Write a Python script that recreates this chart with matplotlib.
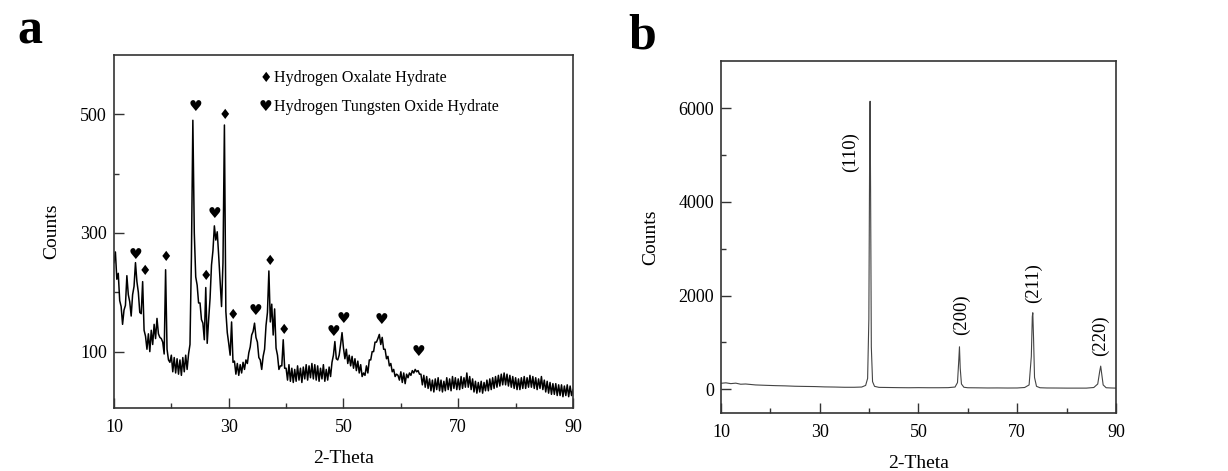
import numpy as np
import matplotlib
matplotlib.use("Agg")
import matplotlib.pyplot as plt
from matplotlib.ticker import FixedLocator

plt.rcParams['font.family'] = ['Liberation Serif', 'DejaVu Sans']

# ---- panel a: as-prepared sample, 0.25 deg steps from 10 to 90 ----
a_start, a_step = 10.0, 0.25
a_counts = [
    250, 268, 222, 232, 186, 176, 146, 170, 178, 228, 196, 184, 160, 196, 210, 250, 218, 200, 166, 164,
    218, 136, 126, 104, 130, 100, 136, 112, 146, 122, 156, 130, 124, 122, 116, 96, 238, 104, 86, 82,
    94, 66, 90, 64, 88, 62, 86, 60, 90, 66, 94, 70, 96, 112, 260, 490, 300, 226, 212, 182,
    182, 154, 148, 120, 208, 114, 154, 190, 246, 270, 312, 288, 302, 262, 218, 176, 250, 482, 168, 132,
    114, 94, 150, 82, 84, 62, 80, 60, 78, 64, 82, 70, 86, 80, 98, 108, 128, 134, 148, 124,
    116, 90, 86, 70, 92, 104, 144, 166, 236, 150, 180, 128, 172, 106, 94, 70, 76, 76, 120, 72,
    72, 52, 78, 50, 72, 48, 70, 50, 76, 52, 72, 48, 74, 54, 78, 52, 76, 56, 80, 54,
    78, 52, 76, 50, 72, 54, 78, 50, 70, 52, 74, 58, 82, 94, 117, 88, 86, 94, 112, 132,
    106, 88, 104, 80, 94, 76, 92, 72, 88, 68, 84, 64, 78, 58, 64, 60, 76, 64, 86, 86,
    100, 100, 116, 116, 122, 129, 112, 124, 104, 104, 88, 92, 76, 80, 66, 70, 58, 62, 60, 52,
    66, 48, 64, 46, 62, 56, 64, 60, 68, 64, 70, 66, 68, 62, 62, 44, 60, 40, 58, 38,
    54, 34, 52, 32, 54, 36, 56, 34, 52, 32, 50, 34, 56, 36, 54, 34, 58, 38, 56, 36,
    54, 36, 58, 38, 56, 40, 64, 40, 58, 36, 54, 32, 50, 30, 48, 32, 50, 30, 48, 34,
    52, 34, 54, 36, 56, 38, 58, 40, 60, 42, 62, 44, 64, 44, 62, 42, 60, 40, 58, 38,
    56, 36, 54, 36, 56, 38, 58, 38, 56, 40, 60, 40, 58, 38, 56, 36, 54, 38, 58, 36,
    52, 32, 50, 30, 48, 28, 46, 28, 46, 26, 44, 26, 44, 24, 42, 26, 44, 24, 42, 26,
    36,
]
a_theta = a_start + a_step * np.arange(len(a_counts))

# phase markers (x, y)
oxalate_x = [15.4, 19.0, 26.0, 29.4, 30.8, 37.2, 39.7]
oxalate_y = [236, 259, 228, 499, 161, 252, 136]
tungsten_x = [13.8, 24.2, 27.5, 34.6, 48.3, 50.0, 56.6, 63.1]
tungsten_y = [264, 514, 333, 169, 134, 156, 154, 100]

# ---- panel b: reduced sample ----
b_theta = [10, 11, 12, 13, 14, 15, 17, 19, 21, 23, 25, 27, 29, 31, 33, 35, 37, 38.5, 39.3, 39.7,
           39.95, 40.1, 40.2, 40.3, 40.45, 40.7, 41.1, 42, 44, 46, 48, 50, 52, 54, 56, 57.4, 57.9,
           58.15, 58.3, 58.45, 58.7, 59.2, 60, 62, 64, 66, 68, 70, 71.5, 72.4, 72.85, 73.05, 73.15,
           73.3, 73.5, 73.9, 74.6, 76, 78, 80, 82, 84, 85.5, 86.3, 86.7, 86.9, 87.1, 87.4, 88, 89, 90]
b_counts = [125, 135, 118, 128, 105, 110, 90, 82, 75, 70, 62, 58, 55, 48, 45, 40, 40, 45, 80, 230,
            1500, 4800, 6150, 4300, 900, 160, 60, 38, 35, 32, 30, 32, 30, 30, 32, 45, 140,
            600, 905, 450, 110, 40, 30, 28, 25, 26, 24, 25, 35, 90, 700, 1550, 1632,
            1100, 250, 60, 30, 25, 24, 22, 22, 22, 35, 110, 380, 492, 330, 90, 30, 25, 22]

peak_labels = ['(110)', '(200)', '(211)', '(220)']
peak_label_x = [36.2, 58.7, 73.2, 86.8]
peak_label_y = [5070, 1583, 2267, 1134]

fig = plt.figure(figsize=(12.28, 4.71), dpi=100)
ax1 = fig.add_axes([0.0928, 0.1338, 0.3738, 0.7494])
ax2 = fig.add_axes([0.5871, 0.1231, 0.3217, 0.7474])

spine_col = '#333333'
for ax in (ax1, ax2):
    for s in ax.spines.values():
        s.set_color(spine_col)
        s.set_linewidth(1.2)
    ax.tick_params(which='both', direction='in', top=False, right=False,
                   colors=spine_col, labelcolor='black', labelsize=13)
    ax.tick_params(which='major', length=7, width=1.0)
    ax.tick_params(which='minor', length=3.5, width=1.0)
    ax.tick_params(axis='x', which='both', pad=8)
    ax.tick_params(axis='y', which='both', pad=5)
    ax.set_xlim(10, 90)
    ax.xaxis.set_major_locator(FixedLocator([10, 30, 50, 70, 90]))
    ax.xaxis.set_minor_locator(FixedLocator([20, 40, 60, 80]))
    ax.set_xlabel('2-Theta', fontsize=14, labelpad=10)

ax1.set_ylabel('Counts', fontsize=14, labelpad=14)
ax2.set_ylabel('Counts', fontsize=14, labelpad=14)

# panel a
ax1.plot(a_theta, a_counts, color='black', lw=1.1)
ax1.set_ylim(5, 600)
ax1.yaxis.set_major_locator(FixedLocator([100, 300, 500]))
ax1.yaxis.set_minor_locator(FixedLocator([200, 400]))
for x, y in zip(oxalate_x, oxalate_y):
    ax1.text(x, y, '\u2666', ha='center', va='center', fontsize=10, family='DejaVu Sans')
for x, y in zip(tungsten_x, tungsten_y):
    ax1.text(x, y, '\u2665', ha='center', va='center', fontsize=11, family='DejaVu Sans')
ax1.text(0.331, 0.935, '\u2666', transform=ax1.transAxes, ha='center', va='center',
         fontsize=10, family='DejaVu Sans')
ax1.text(0.349, 0.935, 'Hydrogen Oxalate Hydrate', transform=ax1.transAxes,
         ha='left', va='center', fontsize=11.5)
ax1.text(0.331, 0.853, '\u2665', transform=ax1.transAxes, ha='center', va='center',
         fontsize=11, family='DejaVu Sans')
ax1.text(0.349, 0.853, 'Hydrogen Tungsten Oxide Hydrate', transform=ax1.transAxes,
         ha='left', va='center', fontsize=11.5)

# panel b
ax2.plot(b_theta, b_counts, color='#444444', lw=0.8)
ax2.set_ylim(-510, 7010)
ax2.yaxis.set_major_locator(FixedLocator([0, 2000, 4000, 6000]))
ax2.yaxis.set_minor_locator(FixedLocator([1000, 3000, 5000]))
for lab, x, y in zip(peak_labels, peak_label_x, peak_label_y):
    ax2.text(x, y, lab, rotation=90, ha='center', va='center', fontsize=13.5)

fig.text(0.014, 0.908, 'a', fontsize=36, fontweight='bold', ha='left', va='baseline')
fig.text(0.512, 0.898, 'b', fontsize=36, fontweight='bold', ha='left', va='baseline')

fig.savefig('out.png', dpi=100, facecolor='white')
